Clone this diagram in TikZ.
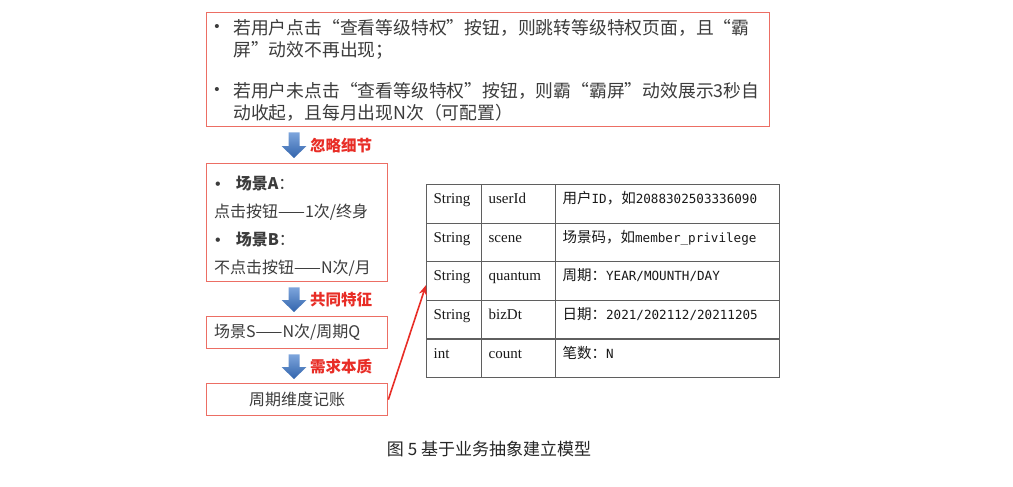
\documentclass[tikz,border=0pt]{standalone}
\usepackage{fontspec}
\setmainfont{Noto Sans CJK SC}
\newfontfamily\serifen{Liberation Serif}
\newfontfamily\monoen{DejaVu Sans Mono}
\newfontfamily\cjk{Noto Sans CJK SC}
\newfontfamily\dotfont{Liberation Sans}
\usetikzlibrary{arrows.meta,positioning,calc}
\definecolor{frame}{RGB}{236,110,100}
\definecolor{ink}{RGB}{60,60,60}
\definecolor{lblred}{RGB}{232,45,38}
\definecolor{arrtop}{RGB}{125,165,220}
\definecolor{arrbot}{RGB}{50,100,172}
\definecolor{grid}{RGB}{95,95,95}
\newcommand\zh[1]{{\cjk\fontsize{14.5}{15}\selectfont #1}}
\newcommand\bul{{\dotfont •}}
\tikzset{
  card/.style={draw=frame, line width=1.3pt, fill=white, anchor=north west, inner sep=0pt},
  bodytxt/.style={text=ink, anchor=north west, inner sep=0pt, align=left},
  dot/.style={text=ink, inner sep=0pt, font=\dotfont\fontsize{15}{15}\selectfont},
  steplbl/.style={text=lblred, anchor=west, inner sep=0pt, font=\fontsize{15.5}{16}\selectfont\bfseries},
  % 表格
  cell/.style={draw=grid, line width=1.2pt, anchor=north west, inner xsep=7pt, inner ysep=8pt,
    text height=11pt, text depth=11.6pt, align=left, text=black!90},
  link/.style={draw=lblred, line width=1.6pt, -{Stealth[length=10pt,width=8pt]}}
}
\begin{document}
\begin{tikzpicture}[x=1pt, y=-1pt]
    \fill[white] (0,0) rectangle (1013,487);
    \useasboundingbox (0,0) rectangle (1013,487);
    % 左侧各框
    \node[card, minimum width=563, minimum height=114] (b1) at (206,12) {};
    \node[card, minimum width=181, minimum height=118] (b2) at (206,163) {};
    \node[card, minimum width=181, minimum height=32] (b3) at (206,316) {};
    \node[card, minimum width=181, minimum height=32] (b4) at (206,383) {};
    \node[dot] (d1) at (217,28) {•};
    \node[bodytxt, font=\fontsize{17.8}{22}\selectfont] (p1) at (233,19)
      {若用户点击“查看等级特权”按钮，则跳转等级特权页面，且“霸\\屏”动效不再出现；};
    \node[dot] (d2) at (217,91) {•};
    \node[bodytxt, font=\fontsize{17.8}{22}\selectfont] (p2) at (233,82)
      {若用户未点击“查看等级特权”按钮，则霸“霸屏”动效展示3秒自\\动收起，且每月出现N次（可配置）};
    \node[bodytxt, font=\fontsize{16}{28}\selectfont] (s1) at (214,176)
      {\hspace{1pt}\bul\hspace{15pt}\textbf{场景A}：\\点击按钮——1次/终身\\\hspace{1pt}\bul\hspace{15pt}\textbf{场景B}：\\不点击按钮——N次/月};
    \node[bodytxt, font=\fontsize{16}{16}\selectfont] (s2) at (214,324) {场景S——N次/周期Q};
    \node[text=ink, inner sep=0pt, font=\fontsize{16}{16}\selectfont] (s3) at (b4.center) {周期维度记账};
    % 蓝色下箭头
    \def\barrow#1#2{\shade[top color=arrtop, bottom color=arrbot] ($(#1)+(-5.5,0)$) -- ($(#2)+(-5.5,-12)$)
      -- ($(#2)+(-12.5,-12)$) -- (#2) -- ($(#2)+(12.5,-12)$) -- ($(#2)+(5.5,-12)$) -- ($(#1)+(5.5,0)$) -- cycle;}
    \coordinate (axis) at (294,0);
    \coordinate (a1s) at ($(b1.south -| axis)+(0,5)$);
    \coordinate (a1t) at ($(b2.north -| axis)+(0,-5)$);
    \coordinate (a2s) at ($(b2.south -| axis)+(0,5)$);
    \coordinate (a2t) at ($(b3.north -| axis)+(0,-4)$);
    \coordinate (a3s) at ($(b3.south -| axis)+(0,5)$);
    \coordinate (a3t) at ($(b4.north -| axis)+(0,-4)$);
    \barrow{a1s}{a1t}
    \barrow{a2s}{a2t}
    \barrow{a3s}{a3t}
    \node[steplbl] (l1) at ($(a1s)!.5!(a1t)+(16,0)$) {忽略细节};
    \node[steplbl] (l2) at ($(a2s)!.5!(a2t)+(16,0)$) {共同特征};
    \node[steplbl] (l3) at ($(a3s)!.5!(a3t)+(16,0)$) {需求本质};
    % 模型表
    \foreach \ty/\fd/\ds [count=\r from 0] in {
        String/userId/{\zh{用户}ID\zh{，如}2088302503336090},
        String/scene/{\zh{场景码，如}member\_privilege},
        String/quantum/{\zh{周期：}YEAR/MOUNTH/DAY},
        String/bizDt/{\zh{日期：}2021/202112/20211205},
        int/count/{\zh{笔数：}N}}{
      \node[cell, text width=41pt, font=\serifen\fontsize{15}{15}\selectfont] (c\r-1) at (426,184+\r*38.6) {\ty};
      \node[cell, text width=60pt, font=\serifen\fontsize{15}{15}\selectfont] (c\r-2) at (481,184+\r*38.6) {\fd};
      \node[cell, text width=210pt, font=\monoen\fontsize{12.6}{13}\selectfont] (c\r-3) at (555,184+\r*38.6) {\ds};
    }
    \draw[link] (b4.east) -- ($(c2-1.west)+(0,4)$);
    \node[text=black!85, inner sep=0pt, font=\fontsize{17}{17}\selectfont] (cap) at (489,449) {图 5 基于业务抽象建立模型};
\end{tikzpicture}
\end{document}
